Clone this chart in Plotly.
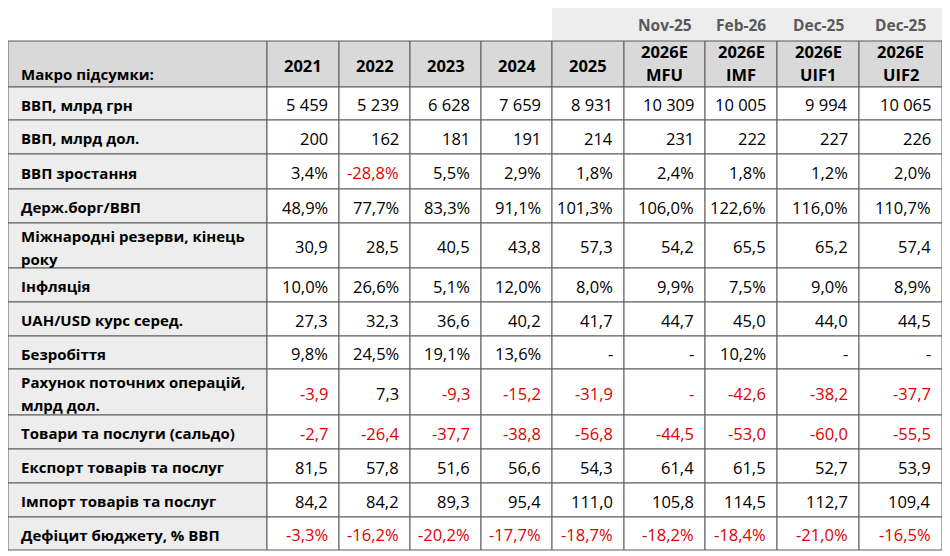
import plotly.graph_objects as go

# --- table data ---
columns = ["2021", "2022", "2023", "2024", "2025", "2026E<br>MFU", "2026E<br>IMF", "2026E<br>UIF1", "2026E<br>UIF2"]
forecast_dates = ["", "", "", "", "", "Nov-25", "Feb-26", "Dec-25", "Dec-25"]
corner_label = "Макро підсумки:"

row_labels = [
    "ВВП, млрд грн",
    "ВВП, млрд дол.",
    "ВВП зростання",
    "Держ.борг/ВВП",
    "Міжнародні резерви, кінець<br>року",
    "Інфляція",
    "UAH/USD курс серед.",
    "Безробіття",
    "Рахунок поточних операцій,<br>млрд дол.",
    "Товари та послуги (сальдо)",
    "Експорт товарів та послуг",
    "Імпорт товарів та послуг",
    "Дефіцит бюджету, % ВВП",
]

gdp_uah = [5459, 5239, 6628, 7659, 8931, 10309, 10005, 9994, 10065]
gdp_usd = [200, 162, 181, 191, 214, 231, 222, 227, 226]
gdp_growth = [3.4, -28.8, 5.5, 2.9, 1.8, 2.4, 1.8, 1.2, 2.0]
debt_gdp = [48.9, 77.7, 83.3, 91.1, 101.3, 106.0, 122.6, 116.0, 110.7]
reserves = [30.9, 28.5, 40.5, 43.8, 57.3, 54.2, 65.5, 65.2, 57.4]
inflation = [10.0, 26.6, 5.1, 12.0, 8.0, 9.9, 7.5, 9.0, 8.9]
uah_usd = [27.3, 32.3, 36.6, 40.2, 41.7, 44.7, 45.0, 44.0, 44.5]
unemployment = [9.8, 24.5, 19.1, 13.6, None, None, 10.2, None, None]
current_account = [-3.9, 7.3, -9.3, -15.2, -31.9, None, -42.6, -38.2, -37.7]
trade_balance = [-2.7, -26.4, -37.7, -38.8, -56.8, -44.5, -53.0, -60.0, -55.5]
exports = [81.5, 57.8, 51.6, 56.6, 54.3, 61.4, 61.5, 52.7, 53.9]
imports = [84.2, 84.2, 89.3, 95.4, 111.0, 105.8, 114.5, 112.7, 109.4]
budget_deficit = [-3.3, -16.2, -20.2, -17.7, -18.7, -18.2, -18.4, -21.0, -16.5]

rows = [gdp_uah, gdp_usd, gdp_growth, debt_gdp, reserves, inflation, uah_usd,
        unemployment, current_account, trade_balance, exports, imports, budget_deficit]
row_formats = ["int", "int", "pct", "pct", "dec", "pct", "dec", "pct", "dec", "dec", "dec", "dec", "pct"]
red_missing = [False] * 8 + [True] + [False] * 4   # the "-" in current account row is red

# --- layout (pixels of the page) ---
col_edges = [8, 267, 339, 410, 481, 552, 624, 705, 777, 859, 942]
row_edges = [41, 87, 120, 154, 189, 223, 268, 302, 336, 369, 415, 449, 483, 517, 550]
strip_top = 8

FONT = "Open Sans"
FS_LABEL = 15
FS_VALUE = 16.5
FS_HEAD = 16.5
FS_DATE = 15.5
BLACK = "#000000"
RED = "#E00000"
GRID = "#5A5A5A"
HEAD_BG = "#D9D9D9"
LABEL_BG = "#EDEDED"


def fmt(v, kind):
    if v is None:
        return "-"
    if kind == "int":
        return f"{v:,.0f}".replace(",", " ")
    if kind == "pct":
        return f"{v:.1f}%".replace(".", ",")
    return f"{v:.1f}".replace(".", ",")


shapes = []
annotations = []


def cell(x0, x1, y0, y1, fill):
    shapes.append(dict(type="rect", xref="x", yref="y", x0=x0, x1=x1, y0=y0, y1=y1,
                       fillcolor=fill, line=dict(color=GRID, width=1), layer="below"))


def text(x, y, s, anchor, size, color=BLACK, bold=False):
    annotations.append(dict(x=x, y=y, xref="x", yref="y", text=f"<b>{s}</b>" if bold else s,
                            showarrow=False, xanchor=anchor, yanchor="middle",
                            font=dict(family=FONT, size=size, color=color)))


# strip with forecast dates
shapes.append(dict(type="rect", xref="x", yref="y", x0=col_edges[5], x1=col_edges[-1],
                   y0=strip_top, y1=row_edges[0], fillcolor=LABEL_BG, line=dict(width=0), layer="below"))
for j, d in enumerate(forecast_dates):
    if d:
        text((col_edges[j + 1] + col_edges[j + 2]) / 2, (strip_top + row_edges[0]) / 2,
             d, "center", FS_DATE, color="#595959", bold=True)

# header row
cell(col_edges[0], col_edges[1], row_edges[0], row_edges[1], HEAD_BG)
text(col_edges[0] + 11, row_edges[1] - 13, corner_label, "left", FS_LABEL, bold=True)
for j, c in enumerate(columns):
    cell(col_edges[j + 1], col_edges[j + 2], row_edges[0], row_edges[1], HEAD_BG)
    lines = c.split("<br>")
    cx = (col_edges[j + 1] + col_edges[j + 2]) / 2
    if len(lines) == 1:
        text(cx, (row_edges[0] + row_edges[1]) / 2 + 1, c, "center", FS_HEAD, bold=True)
    else:
        text(cx, row_edges[0] + 10, lines[0], "center", FS_HEAD, bold=True)
        text(cx, row_edges[0] + 33, lines[1], "center", FS_HEAD, bold=True)

# body rows
for i, (label, vals) in enumerate(zip(row_labels, rows)):
    y0, y1 = row_edges[i + 1], row_edges[i + 2]
    ym = (y0 + y1) / 2 + 1
    cell(col_edges[0], col_edges[1], y0, y1, LABEL_BG)
    parts = label.split("<br>")
    if len(parts) == 1:
        text(col_edges[0] + 11, ym, label, "left", FS_LABEL, bold=True)
    else:
        text(col_edges[0] + 11, ym - 11, parts[0], "left", FS_LABEL, bold=True)
        text(col_edges[0] + 11, ym + 12, parts[1], "left", FS_LABEL, bold=True)
    for j, v in enumerate(vals):
        cell(col_edges[j + 1], col_edges[j + 2], y0, y1, "#FFFFFF")
        neg = (v is not None and v < 0) or (v is None and red_missing[i])
        text(col_edges[j + 2] - 9, ym, fmt(v, row_formats[i]), "right", FS_VALUE,
             color=RED if neg else BLACK)

# page body has an 8px margin, so the figure starts at page pixel 8
fig = go.Figure()
fig.update_layout(
    width=942, height=548,
    margin=dict(l=0, r=0, t=0, b=0),
    paper_bgcolor="white", plot_bgcolor="white",
    xaxis=dict(range=[8, 950], visible=False, fixedrange=True),
    yaxis=dict(range=[556, 8], visible=False, fixedrange=True),
    shapes=shapes, annotations=annotations,
    showlegend=False,
)
fig.write_html("out.html")
